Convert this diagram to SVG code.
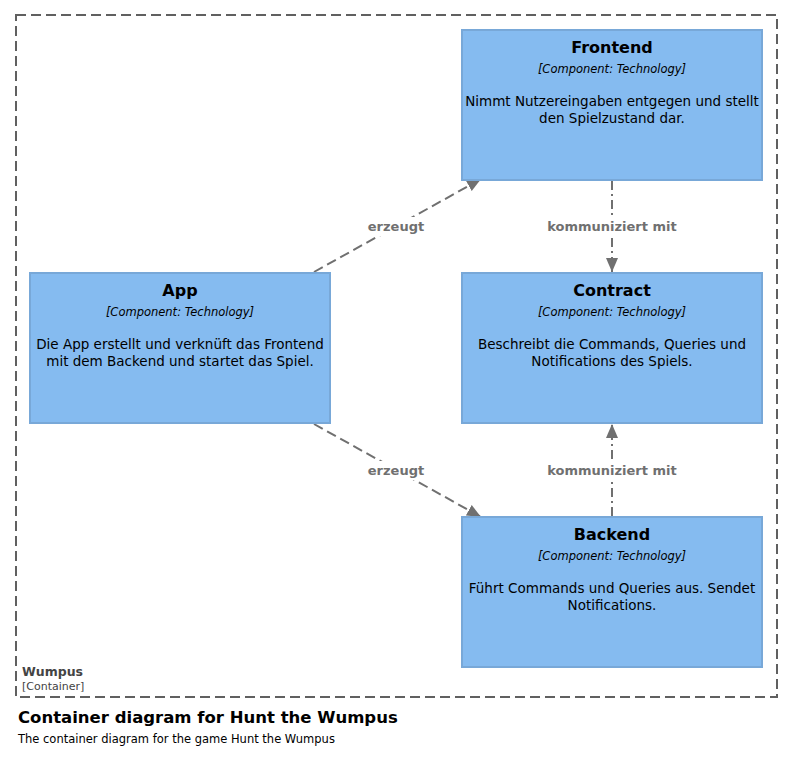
<svg xmlns="http://www.w3.org/2000/svg" width="793" height="773" viewBox="0 0 793 773">
<style>
.box{fill:#85BBF0;stroke:#78A8D8;stroke-width:2}
.t{font-family:"DejaVu Sans","Liberation Sans",sans-serif;fill:#000;text-anchor:middle}
.name{font-size:16px;font-weight:bold}
.tech{font-size:11.5px;font-style:italic}
.desc{font-size:13.5px}
.lbl{font-family:"DejaVu Sans","Liberation Sans",sans-serif;font-size:13px;font-weight:bold;fill:#707070;text-anchor:middle}
.edge{stroke:#707070;stroke-width:2;fill:none}
.dash{stroke-dasharray:10,5}
.dashdot{stroke-dasharray:9,4,2,4}
</style>
<defs>
<marker id="arr" viewBox="0 0 14 12" refX="14" refY="6" markerWidth="14" markerHeight="12" markerUnits="userSpaceOnUse" orient="auto">
<path d="M0,0 L14,6 L0,12 Z" fill="#707070"/>
</marker>
</defs>
<rect width="793" height="773" fill="#fff"/>
<g id="container-wumpus">
<rect x="16" y="15" width="761" height="682" fill="none" stroke="#606060" stroke-width="2" stroke-dasharray="10,5"/>
<text x="22" y="676" font-family="DejaVu Sans,Liberation Sans,sans-serif" font-size="12.5" font-weight="bold" fill="#444">Wumpus</text>
<text x="22" y="690" font-family="DejaVu Sans,Liberation Sans,sans-serif" font-size="11" fill="#444">[Container]</text>
</g>
<g id="connectors">
<line class="edge dash" x1="314" y1="272" x2="481" y2="179" marker-end="url(#arr)"/>
<line class="edge dash" x1="314" y1="424" x2="481" y2="517" marker-end="url(#arr)"/>
<line class="edge dashdot" x1="612" y1="181" x2="612" y2="272" marker-end="url(#arr)"/>
<line class="edge dashdot" x1="612" y1="516" x2="612" y2="424" marker-end="url(#arr)"/>
<rect x="366" y="217" width="60" height="19" fill="#fff"/>
<text class="lbl" x="396" y="231">erzeugt</text>
<rect x="366" y="461" width="60" height="19" fill="#fff"/>
<text class="lbl" x="396" y="475">erzeugt</text>
<rect x="546" y="217" width="132" height="19" fill="#fff"/>
<text class="lbl" x="612" y="231">kommuniziert mit</text>
<rect x="546" y="461" width="132" height="19" fill="#fff"/>
<text class="lbl" x="612" y="475">kommuniziert mit</text>
</g>
<g id="frontend">
<rect class="box" x="462" y="30" width="300" height="150"/>
<text class="t name" x="612" y="53">Frontend</text>
<text class="t tech" x="612" y="73">[Component: Technology]</text>
<text class="t desc" x="612" y="106">Nimmt Nutzereingaben entgegen und stellt</text>
<text class="t desc" x="612" y="123">den Spielzustand dar.</text>
</g>
<g id="app">
<rect class="box" x="30" y="273" width="300" height="150"/>
<text class="t name" x="180" y="296">App</text>
<text class="t tech" x="180" y="316">[Component: Technology]</text>
<text class="t desc" x="180" y="349">Die App erstellt und verknüft das Frontend</text>
<text class="t desc" x="180" y="366">mit dem Backend und startet das Spiel.</text>
</g>
<g id="contract">
<rect class="box" x="462" y="273" width="300" height="150"/>
<text class="t name" x="612" y="296">Contract</text>
<text class="t tech" x="612" y="316">[Component: Technology]</text>
<text class="t desc" x="612" y="349">Beschreibt die Commands, Queries und</text>
<text class="t desc" x="612" y="366">Notifications des Spiels.</text>
</g>
<g id="backend">
<rect class="box" x="462" y="517" width="300" height="150"/>
<text class="t name" x="612" y="540">Backend</text>
<text class="t tech" x="612" y="560">[Component: Technology]</text>
<text class="t desc" x="612" y="593">Führt Commands und Queries aus. Sendet</text>
<text class="t desc" x="612" y="610">Notifications.</text>
</g>
<g id="title">
<text x="18" y="723" font-family="DejaVu Sans,Liberation Sans,sans-serif" font-size="16.5" font-weight="bold" fill="#000">Container diagram for Hunt the Wumpus</text>
<text x="18" y="743" font-family="DejaVu Sans,Liberation Sans,sans-serif" font-size="11.5" fill="#000">The container diagram for the game Hunt the Wumpus</text>
</g>
</svg>
